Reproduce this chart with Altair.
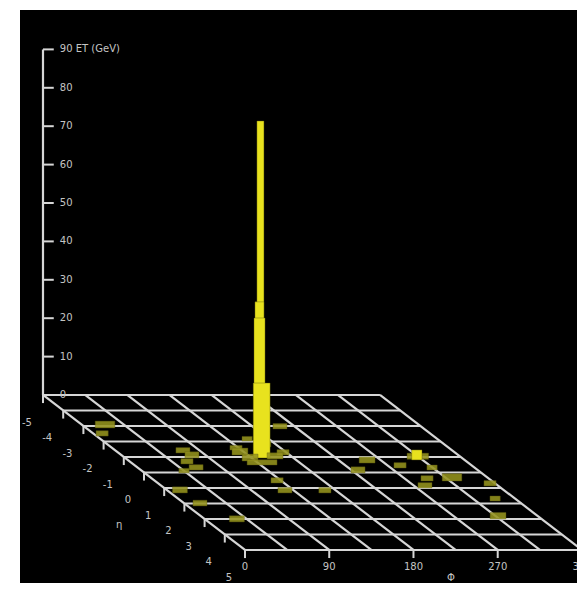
import altair as alt
import pandas as pd

# ---------------- data ----------------
ET_TICKS = [0, 10, 20, 30, 40, 50, 60, 70, 80, 90]
ET_TICK_LABELS = ["0", "10", "20", "30", "40", "50", "60", "70", "80", "90 ET (GeV)"]
ETA_TICKS = [-5, -4, -3, -2, -1, 0, 1, 2, 3, 4, 5]
ETA_LABELS = ["-5", "-4", "-3", "-2", "-1", "0", "1", "2", "3", "4", "5"]
PHI_GRID = [0, 45, 90, 135, 180, 225, 270, 315, 360]
PHI_TICKS = [0, 90, 180, 270, 360]
PHI_LABELS = ["0", "90", "180", "270", "360"]

# calorimeter towers: front eta edge, phi centre (deg), phi width (deg), ET (GeV)
TOWER_ETA = [-2.87, -2.35, -1.26, -0.94, -0.55, -0.16, 0.03, 1.32, 2.16, 3.19,
             -2.81, -1.13, -0.74, -0.87, -1.13, -2.03, -1.65, -1.45,
             -1.20, -1.10, -1.00, -0.94, -0.48,
             0.68, 1.32, 1.32, -0.61, 0.03, -0.85, -0.81, -0.29, -0.16,
             0.55, 0.55, 1.00, 0.87, 1.84, 3.00]
TOWER_PHI = [20.3, 6.0, 68.8, 71.5, 57.8, 59.1, 42.1, 9.9, 13.2, 30.4,
             205.9, 126.9, 129.3, 158.8, 172.9, 154.0, 164.7, 129.6,
             150.3, 147.1, 145.0, 146.0, 136.5,
             127.5, 122.1, 164.8, 251.5, 228.0, 310.9, 309.0, 279.8, 311.2,
             317.2, 290.5, 278.6, 350.9, 335.4, 313.5]
TOWER_DPHI = [21, 13, 15, 15, 13, 15, 11, 16, 15, 16,
              15, 17, 17, 17, 13, 11, 13, 13,
              7.5, 9.6, 11.8, 18, 32,
              13, 15, 13, 17, 15, 23, 11, 13, 11,
              21, 13, 15, 13, 11, 17]
TOWER_ET = [1.8, 1.4, 1.4, 1.6, 1.4, 1.4, 1.2, 1.6, 1.5, 1.6,
            1.4, 1.8, 1.8, 1.6, 1.4, 1.2, 1.4, 1.2,
            86.7, 40.0, 36.2, 19.5, 1.4,
            1.4, 1.4, 1.4, 1.6, 1.6, 1.6, 2.6, 1.4, 1.3,
            1.9, 1.4, 1.4, 1.4, 1.3, 1.7]

# ---------------- oblique projection settings ----------------
KX = 21.58   # horizontal shift (phi-degrees) per unit of eta
KY = 4.036   # vertical shift (GeV units) per unit of eta
W, H = 557, 573
xs = alt.Scale(domain=[-24.57, 570.5], nice=False, zero=False)
ys = alt.Scale(domain=[-48.96, 100.26], nice=False, zero=False)

GRID_COL = "#d6d6d6"
TEXT_COL = "#c4c4c4"
YELLOW = "#e8e21e"
OLIVE = "#96941e"
FONT = "DejaVu Sans"


def X(f):
    return alt.X(f, type="quantitative", scale=xs, axis=None)


def Y(f):
    return alt.Y(f, type="quantitative", scale=ys, axis=None)


# floor grid
rows = []
for e in ETA_TICKS:
    rows.append({"phi1": PHI_GRID[0], "eta1": e, "phi2": PHI_GRID[-1], "eta2": e})
for p in PHI_GRID:
    rows.append({"phi1": p, "eta1": ETA_TICKS[0], "phi2": p, "eta2": ETA_TICKS[-1]})
grid_df = pd.DataFrame(rows)

grid = alt.Chart(grid_df).transform_calculate(
    x1=f"datum.phi1 + (datum.eta1 + 5) * {KX}",
    y1=f"-(datum.eta1 + 5) * {KY}",
    x2=f"datum.phi2 + (datum.eta2 + 5) * {KX}",
    y2=f"-(datum.eta2 + 5) * {KY}",
).mark_rule(color=GRID_COL, strokeWidth=2.2).encode(
    x=X("x1"), y=Y("y1"), x2="x2:Q", y2="y2:Q"
)

# vertical ET axis
et_df = pd.DataFrame({"z": ET_TICKS, "label": ET_TICK_LABELS})
z_line = alt.Chart(pd.DataFrame({"z0": [ET_TICKS[0]], "z1": [ET_TICKS[-1]]})).transform_calculate(
    x0="0"
).mark_rule(color=GRID_COL, strokeWidth=2.2).encode(x=X("x0"), y=Y("z0"), y2="z1:Q")
z_ticks = alt.Chart(et_df).transform_calculate(x0="0", x1="11.5").mark_rule(
    color=GRID_COL, strokeWidth=2
).encode(x=X("x0"), x2="x1:Q", y=Y("z"))
z_labels = alt.Chart(et_df).transform_calculate(x0="18").mark_text(
    align="left", baseline="middle", color=TEXT_COL, font=FONT, fontSize=10
).encode(x=X("x0"), y=Y("z"), text="label:N")

# eta ticks & labels (left edge of floor)
eta_df = pd.DataFrame({"eta": ETA_TICKS, "label": ETA_LABELS})
eta_base = alt.Chart(eta_df).transform_calculate(
    x0=f"(datum.eta + 5) * {KX}",
    y0=f"-(datum.eta + 5) * {KY}",
    y1=f"-(datum.eta + 5) * {KY} - 2.1",
)
eta_ticks = eta_base.mark_rule(color=GRID_COL, strokeWidth=2).encode(
    x=X("x0"), y=Y("y0"), y2="y1:Q"
)
eta_labels = eta_base.mark_text(
    align="center", baseline="middle", color=TEXT_COL, font=FONT, fontSize=10, dx=-16, dy=28
).encode(x=X("x0"), y=Y("y0"), text="label:N")

# phi ticks & labels (front edge of floor)
phi_df = pd.DataFrame({"phi": PHI_TICKS, "label": PHI_LABELS})
phi_base = alt.Chart(phi_df).transform_calculate(
    x0=f"datum.phi + 10 * {KX}",
    y0=f"-10 * {KY}",
    y1=f"-10 * {KY} - 2.1",
)
phi_ticks = phi_base.mark_rule(color=GRID_COL, strokeWidth=2).encode(
    x=X("x0"), y=Y("y0"), y2="y1:Q"
)
phi_labels = phi_base.mark_text(
    align="center", baseline="middle", color=TEXT_COL, font=FONT, fontSize=10, dy=17
).encode(x=X("x0"), y=Y("y0"), text="label:N")

# axis titles
eta_title = alt.Chart(pd.DataFrame({"eta": [1.5], "t": ["η"]})).transform_calculate(
    x0=f"(datum.eta + 5) * {KX}", y0=f"-(datum.eta + 5) * {KY}"
).mark_text(color=TEXT_COL, font=FONT, fontSize=10, dx=-55, dy=29).encode(
    x=X("x0"), y=Y("y0"), text="t:N"
)
phi_title = alt.Chart(pd.DataFrame({"phi": [220], "t": ["Φ"]})).transform_calculate(
    x0=f"datum.phi + 10 * {KX}", y0=f"-10 * {KY}"
).mark_text(color=TEXT_COL, font=FONT, fontSize=10, dy=28).encode(
    x=X("x0"), y=Y("y0"), text="t:N"
)

# towers (front faces), drawn back to front
tw_df = pd.DataFrame({"eta": TOWER_ETA, "phi": TOWER_PHI, "dphi": TOWER_DPHI, "et": TOWER_ET})
tw_df = tw_df.sort_values("eta", kind="stable").reset_index(drop=True)
tw_df["rank"] = range(len(tw_df))
towers = alt.Chart(tw_df).transform_calculate(
    xa=f"datum.phi - datum.dphi / 2 + (datum.eta + 5) * {KX}",
    xb=f"datum.phi + datum.dphi / 2 + (datum.eta + 5) * {KX}",
    ya=f"-(datum.eta + 5) * {KY}",
    yb=f"datum.et - (datum.eta + 5) * {KY}",
).mark_rect(stroke="#5a5810", strokeWidth=0.4).encode(
    x=X("xa"), x2="xb:Q", y=Y("ya"), y2="yb:Q",
    color=alt.condition(alt.datum.et >= 2, alt.value(YELLOW), alt.value(OLIVE)),
    opacity=alt.condition(alt.datum.et >= 2, alt.value(1.0), alt.value(0.88)),
    order=alt.Order("rank:Q"),
)

chart = alt.layer(
    grid, z_line, z_ticks, z_labels, eta_ticks, eta_labels, phi_ticks, phi_labels,
    eta_title, phi_title, towers
).properties(
    width=W, height=H,
    padding={"left": 12, "top": 2, "right": 0, "bottom": 0},
    background="white",
    autosize=alt.AutoSizeParams(type="none"),
).configure_view(fill="black", stroke=None)

chart.save("out.html", embed_options={"renderer": "svg", "actions": False})
